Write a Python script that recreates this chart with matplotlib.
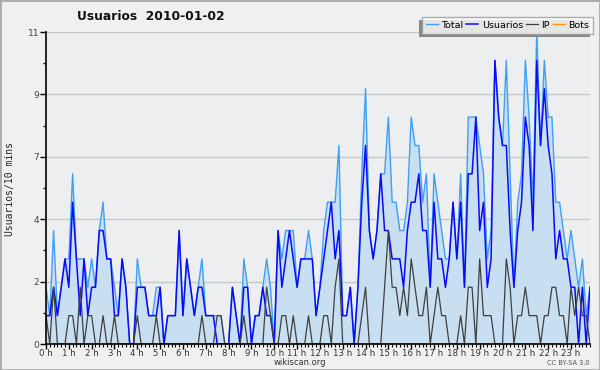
import numpy as np
import matplotlib
matplotlib.use('Agg')
import matplotlib.pyplot as plt
from matplotlib.patches import Rectangle
from matplotlib.lines import Line2D
from matplotlib.transforms import IdentityTransform

# valores cada 10 minutos (144 puntos)
total = [2, 1, 4, 1, 2, 3, 3, 6, 3, 3, 3, 2, 3, 2, 4, 5, 3, 3, 2, 1, 3, 2, 0, 0,
         3, 2, 2, 1, 1, 2, 2, 0, 1, 1, 1, 4, 1, 3, 2, 1, 2, 3, 1, 1, 1, 1, 1, 0,
         0, 2, 1, 0, 3, 2, 0, 1, 1, 2, 3, 2, 0, 4, 3, 4, 4, 4, 2, 3, 3, 4, 3, 1,
         2, 4, 5, 5, 5, 7, 1, 1, 2, 0, 2, 6, 9, 4, 3, 4, 6, 6, 8, 5, 5, 4, 4, 5,
         8, 7, 7, 5, 6, 2, 6, 5, 4, 3, 3, 5, 3, 6, 2, 8, 8, 8, 7, 6, 3, 4, 10, 8,
         7, 10, 6, 2, 5, 6, 10, 8, 5, 11, 7, 10, 8, 8, 5, 5, 4, 3, 4, 3, 2, 3, 1, 2]
usuarios = [1, 1, 2, 1, 2, 3, 2, 5, 3, 1, 3, 1, 2, 2, 4, 4, 3, 3, 1, 1, 3, 2, 0, 0,
            2, 2, 2, 1, 1, 1, 2, 0, 1, 1, 1, 4, 1, 3, 2, 1, 2, 2, 1, 1, 1, 0, 0, 0,
            0, 2, 1, 0, 2, 2, 0, 1, 1, 2, 1, 1, 0, 4, 2, 3, 4, 3, 2, 3, 3, 3, 3, 1,
            2, 3, 4, 5, 3, 4, 1, 1, 2, 0, 2, 5, 7, 4, 3, 4, 6, 4, 4, 3, 3, 3, 2, 4,
            5, 5, 6, 4, 4, 2, 5, 3, 3, 2, 3, 5, 3, 5, 2, 6, 6, 8, 4, 5, 2, 3, 10, 8,
            7, 7, 4, 2, 4, 5, 8, 7, 4, 10, 7, 9, 7, 6, 3, 4, 3, 3, 2, 2, 0, 2, 0, 2]
ip = [1, 0, 2, 0, 0, 0, 1, 1, 0, 2, 0, 1, 1, 0, 0, 1, 0, 0, 1, 0, 0, 0, 0, 0,
      1, 0, 0, 0, 0, 1, 0, 0, 0, 0, 0, 0, 0, 0, 0, 0, 0, 1, 0, 0, 0, 1, 1, 0,
      0, 0, 0, 0, 1, 0, 0, 0, 0, 0, 2, 1, 0, 0, 1, 1, 0, 1, 0, 0, 0, 1, 0, 0,
      0, 1, 1, 0, 2, 3, 0, 0, 0, 0, 0, 1, 2, 0, 0, 0, 0, 2, 4, 2, 2, 1, 2, 1,
      3, 2, 1, 1, 2, 0, 1, 2, 1, 1, 0, 0, 0, 1, 0, 2, 2, 0, 3, 1, 1, 1, 0, 0,
      0, 3, 2, 0, 1, 1, 2, 1, 1, 1, 0, 1, 1, 2, 2, 1, 1, 0, 2, 1, 2, 1, 1, 0]
bots = [0] * 144
horas = [f"{h} h" for h in range(24)]

x = np.arange(len(total))

fig = plt.figure(figsize=(6, 3.7), dpi=100, facecolor='#f0f0f0')
ax = fig.add_axes([46/600, 26/370, 544/600, 312/370])
ax.set_facecolor('#edeef0')

ax.fill_between(x, total, 0, color='#c8def1', lw=0, zorder=1)
ax.plot(x, bots, color='#ff9900', lw=1, zorder=1.5)
l_total, = ax.plot(x, total, color='#3fa0f5', lw=1, zorder=2)
l_usu, = ax.plot(x, usuarios, color='#0a0aff', lw=1.1, zorder=3)
l_ip, = ax.plot(x, ip, color='#404040', lw=0.9, zorder=4)

ax.set_xlim(0, 143)
ax.set_ylim(0, 11)

yt = np.linspace(0, 11, 6)
ax.set_yticks(yt)
ax.set_yticklabels([f"{v:.0f}" for v in yt])
ax.set_yticks(np.arange(1.1, 11, 2.2), minor=True)
ax.set_xticks(np.arange(0, 144, 6))
ax.set_xticklabels(horas)
ax.set_xticks(np.arange(0, 144, 1), minor=True)
ax.grid(axis='y', color='#c8c8c8', lw=1, zorder=0)
ax.set_axisbelow(True)

for s in ['top', 'right']:
    ax.spines[s].set_visible(False)
for s in ['left', 'bottom']:
    ax.spines[s].set_color('black')
    ax.spines[s].set_linewidth(1.2)
    ax.spines[s].set_zorder(5)

ax.tick_params(axis='y', which='major', length=4, width=1, labelsize=6.5, labelcolor='#444', pad=1)
ax.tick_params(axis='y', which='minor', length=2.5, width=1)
ax.tick_params(axis='x', which='major', length=3.5, width=1, labelsize=6.2, labelcolor='#333', pad=0)
ax.tick_params(axis='x', which='minor', length=2, width=0.8)

fig.text(10/600, 1 - 189/370, 'Usuarios/10 mins', rotation=90, ha='center', va='center',
         fontsize=7, family='DejaVu Sans Mono', color='#222')
fig.text(151/600, 1 - 16/370, 'Usuarios  2010-01-02', ha='center', va='center',
         fontsize=8.8, fontweight='bold', color='#111')
fig.text(300/600, 1 - 362.5/370, 'wikiscan.org', ha='center', va='center', fontsize=6, color='#333')
fig.text(590/600, 1 - 363/370, 'CC BY-SA 3.0', ha='right', va='center', fontsize=4.8, color='#555')

l_bots = Line2D([], [], color='#ff9900', lw=1)
leg = fig.legend([l_total, l_usu, l_ip, l_bots], ['Total', 'Usuarios', 'IP', 'Bots'],
                 loc='upper right', bbox_to_anchor=(593/600, 1 - 17/370), ncol=4,
                 fontsize=6.8, frameon=True, fancybox=False, edgecolor='#999999',
                 handlelength=1.3, handletextpad=0.35, columnspacing=0.3,
                 borderpad=0.4, borderaxespad=0)
leg.get_frame().set_linewidth(1)
leg.set_zorder(10)

fig.canvas.draw()
bb = leg.get_window_extent()
fig.patches.append(Rectangle((bb.x0 - 3, bb.y0 - 3), bb.width, bb.height, transform=IdentityTransform(),
                             facecolor='#888888', edgecolor='none', zorder=9))
fig.patches.append(Rectangle((0, 0), 1, 1, transform=fig.transFigure, fill=False,
                             edgecolor='#aaaaaa', lw=2))

fig.savefig('out.png', dpi=100, facecolor=fig.get_facecolor())
